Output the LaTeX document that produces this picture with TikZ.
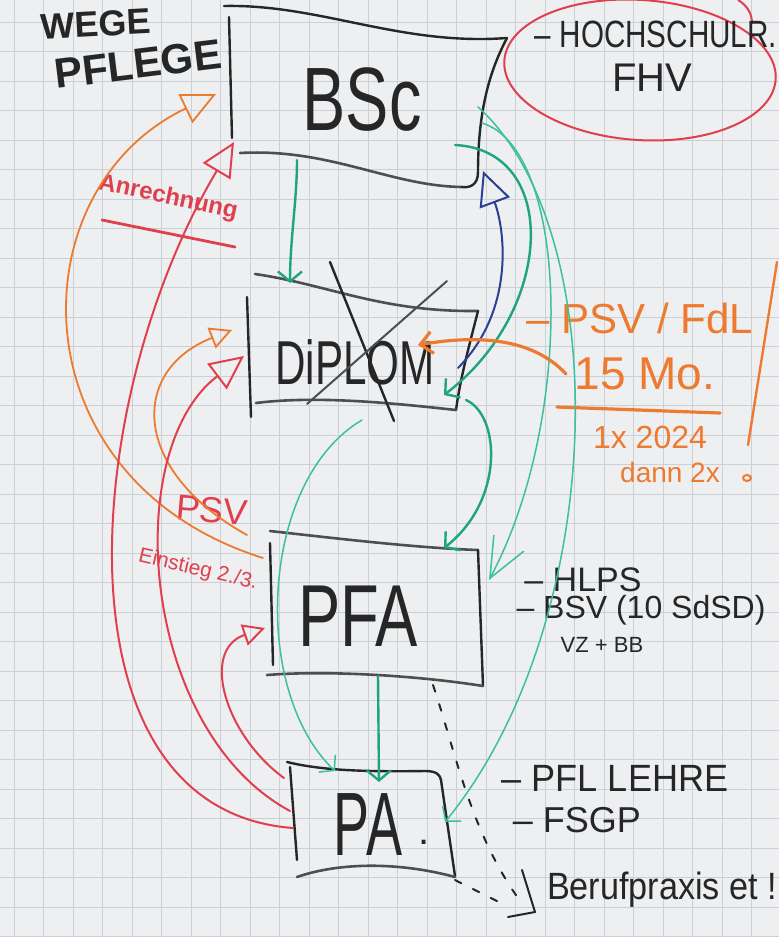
\documentclass[tikz,border=0pt]{standalone}
\usepackage{fontspec}
\setmainfont{Liberation Sans}
\usetikzlibrary{arrows.meta}
\definecolor{paper}{HTML}{EDEFF1}
\definecolor{gridc}{HTML}{CBD0D6}
\definecolor{ink}{HTML}{262626}
\definecolor{inkgray}{HTML}{4E4E4E}
\definecolor{grn}{HTML}{1EA57C}
\definecolor{grnl}{HTML}{3CC09D}
\definecolor{blu}{HTML}{2B3F94}
\definecolor{org}{HTML}{EE7A30}
\definecolor{redm}{HTML}{E0404E}
\newcommand{\fs}[1]{\fontsize{#1}{#1}\selectfont}
\begin{document}
\begin{tikzpicture}[x=1pt,y=-1pt,
  edge/.style={draw=ink,line width=2.4pt,line cap=round,line join=round},
  edgeg/.style={draw=inkgray,line width=2.6pt,line cap=round,line join=round},
  gthick/.style={draw=grn,line width=2.4pt,line cap=round},
  gthin/.style={draw=grnl,line width=1.5pt,line cap=round},
  bluearrow/.style={draw=blu,line width=2pt,line cap=round},
  orthick/.style={draw=org,line width=3.2pt,line cap=round},
  orthin/.style={draw=org,line width=1.8pt,line cap=round},
  redarr/.style={draw=redm,line width=2pt,line cap=round},
  dashblk/.style={draw=ink,line width=2pt,dash pattern=on 7pt off 13pt,line cap=round},
  lbl/.style={inner sep=0pt,text=ink},
  olbl/.style={inner sep=0pt,text=org},
  rlbl/.style={inner sep=0pt,text=redm},
  vbarb/.tip={Straight Barb[length=10pt,width=24pt]},
  bigv/.tip={Straight Barb[length=40pt,width=34pt]},
  tri/.tip={Triangle[open,length=34pt,width=32pt]},
  trism/.tip={Triangle[open,length=22pt,width=22pt]},
  obarb/.tip={Straight Barb[length=12pt,width=22pt]}
]
\fill[paper] (0,0) rectangle (779,937);
\useasboundingbox (0,0) rectangle (779,937);
% grid of the paper
\foreach \i in {0,...,26} \draw[gridc,line width=0.7pt] ({14+29.5*\i},0) -- ++(0,937);
\foreach \j in {0,...,31} \draw[gridc,line width=0.7pt] (0,{22+29.5*\j}) -- ++(779,0);

% ---------- title ----------
\node[lbl,font=\bfseries\fs{36},rotate=3] (wege) at (96,24) {WEGE};
\node[lbl,font=\bfseries\fs{42},rotate=7] (pflege) at (138,64) {PFLEGE};

% ---------- boxes ----------
% BSc
\draw[edge] (224,6) .. controls (320,4) and (400,46) .. (507,38);
\draw[edge] (229,17) -- (232,138);
\draw[edgeg] (240,153) .. controls (330,148) and (390,186) .. (462,187);
\draw[edge] (507,38) .. controls (490,70) and (478,110) .. (478,172) .. controls (478,185) and (470,188) .. (462,187);
\node[lbl,font=\fs{90},xscale=0.72] (bsc) at (362,100) {BSc};

% DIPLOM
\draw[edgeg] (255,274) .. controls (330,285) and (380,312) .. (478,311);
\draw[edge] (478,311) .. controls (468,350) and (460,380) .. (456,410);
\draw[edgeg] (256,403) .. controls (320,395) and (400,404) .. (456,410);
\draw[edge] (247,297) -- (251,417);
\node[lbl,font=\fs{62},xscale=0.68] (dip) at (355,362) {DiPLOM};
\draw[edge] (330,262) -- (394,421);
\draw[edgeg,line width=2pt] (447,281) -- (307,404);

% PFA
\draw[edgeg] (270,531) .. controls (350,540) and (420,548) .. (478,550);
\draw[edge] (478,550) -- (483,686);
\draw[edgeg] (267,675) .. controls (330,670) and (420,676) .. (483,686);
\draw[edge] (270,543) -- (273,665);
\node[lbl,font=\fs{88},xscale=0.72] (pfa) at (358,616) {PFA};

% PA
\draw[edge] (287,762) .. controls (320,770) and (360,772) .. (425,771) .. controls (437,771) and (440,775) .. (441,780);
\draw[edge] (441,780) -- (455,876);
\draw[edgeg] (297,877) .. controls (340,862) and (400,862) .. (455,877);
\draw[edge] (290,767) -- (297,860);
\node[lbl,font=\fs{90},xscale=0.6] (pa) at (368,825) {PA};
\node[lbl,font=\fs{40}] (padot) at (424,842) {.};

% ---------- right texts ----------
\draw[redm,line width=2pt,rotate around={-4:(640,70)}] (640,70) ellipse [x radius=136pt,y radius=70pt];
\draw[redm,line width=2pt] (738,0) .. controls (748,6) and (752,14) .. (752,24);
\node[lbl,font=\fs{38},xscale=0.78] (hs) at (656,34) {– HOCHSCHULR.};
\node[lbl,font=\fs{40}] (fhv) at (652,78) {FHV};

\node[olbl,font=\fs{42}] (psvr) at (640,318) {– PSV / FdL};
\node[olbl,font=\fs{46}] (mo) at (645,374) {15 Mo.};
\draw[orthick] (557,407) -- (720,413);
\node[olbl,font=\fs{32}] (y24) at (650,437) {1x 2024};
\node[olbl,font=\fs{28}] (dann) at (670,472) {dann 2x};
\draw[orthin,line width=2.4pt] (777,262) -- (748,445);
\draw[org,line width=2pt] (747,478) ellipse [x radius=4pt,y radius=3pt];

\node[lbl,font=\fs{34}] (hlps) at (583,580) {– HLPS};
\node[lbl,font=\fs{32}] (bsv) at (641,610) {– BSV (10 SdSD)};
\node[lbl,font=\fs{22}] (vz) at (602,645) {VZ + BB};

\node[lbl,font=\fs{38},xscale=0.95] (lehre) at (615,778) {– PFL LEHRE};
\node[lbl,font=\fs{36}] (fsgp) at (577,820) {– FSGP};
\node[lbl,font=\fs{38},xscale=0.9] (beruf) at (662,890) {Berufpraxis et !};

% red texts
\node[rlbl,font=\bfseries\fs{24},rotate=-12] (anr) at (168,198) {Anrechnung};
\draw[redm,line width=2.8pt,line cap=round] (102,220) -- (235,247);
\node[rlbl,font=\fs{36},rotate=-5] (psvl) at (212,510) {PSV};
\node[rlbl,font=\fs{21},rotate=-13] (ein) at (198,570) {Einstieg 2./3.};

% ---------- connectors ----------
\coordinate (bscB) at (297,160);
\coordinate (dipT) at (290,283);
\coordinate (bscR1) at (455,145);
\coordinate (dipR1) at (444,395);
\coordinate (bscR2) at (482,123);
\coordinate (vend) at (489,580);
\coordinate (bscR3) at (478,107);
\coordinate (paR) at (445,822);
\coordinate (dipR2) at (466,400);
\coordinate (pfaT) at (444,548);
\coordinate (dipB) at (362,420);
\coordinate (paT1) at (335,771);
\coordinate (pfaB) at (378,676);
\coordinate (paT2) at (379,782);
\coordinate (dipR3) at (458,368);
\coordinate (bscBR) at (483,171);
\coordinate (o1s) at (566,374);
\coordinate (dipR4) at (418,345);
\coordinate (o2s) at (263,558);
\coordinate (bscL) at (216,94);
\coordinate (o3s) at (247,535);
\coordinate (dipL) at (232,330);
\coordinate (paL1) at (293,828);
\coordinate (bscL2) at (234,142);
\coordinate (paL2) at (290,811);
\coordinate (dipL2) at (244,356);
\coordinate (paL3) at (284,778);
\coordinate (pfaL) at (265,628);
\coordinate (pfaBR) at (433,685);
\coordinate (brk) at (518,898);
\coordinate (paBR) at (455,880);
\coordinate (brk2) at (505,905);

% green
\draw[gthick,-{vbarb}] (bscB) .. controls (297,200) and (290,240) .. (dipT);
\draw[gthick,-{vbarb}] (bscR1) .. controls (560,150) and (555,310) .. (dipR1);
\draw[gthin,-{bigv}] (bscR2) .. controls (570,150) and (575,420) .. (vend);
\draw[gthin,-{vbarb}] (bscR3) .. controls (615,230) and (610,620) .. (paR);
\draw[gthick,-{vbarb}] (dipR2) .. controls (500,415) and (505,500) .. (pfaT);
\draw[gthin,-{vbarb}] (dipB) .. controls (260,480) and (250,690) .. (paT1);
\draw[gthick,-{vbarb}] (pfaB) -- (paT2);
% blue
\draw[bluearrow,-{tri}] (dipR3) .. controls (515,310) and (505,230) .. (bscBR);
% orange
\draw[orthick,-{obarb}] (o1s) .. controls (530,335) and (470,336) .. (dipR4);
\draw[orthin,-{tri}] (o2s) .. controls (15,480) and (15,190) .. (bscL);
\draw[orthin,-{trism}] (o3s) .. controls (130,470) and (130,370) .. (dipL);
% red
\draw[redarr,-{tri}] (paL1) .. controls (50,810) and (80,400) .. (bscL2);
\draw[redarr,-{tri}] (paL2) .. controls (140,730) and (120,450) .. (dipL2);
\draw[redarr,-{trism}] (paL3) .. controls (225,735) and (200,650) .. (pfaL);
% dashed to Berufpraxis
\draw[dashblk] (pfaBR) .. controls (455,750) and (470,830) .. (brk);
\draw[dashblk] (paBR) -- (brk2);
\draw[ink,line width=2pt,line cap=round,line join=round] (522,870) -- (535,912) -- (508,917);
\end{tikzpicture}
\end{document}
